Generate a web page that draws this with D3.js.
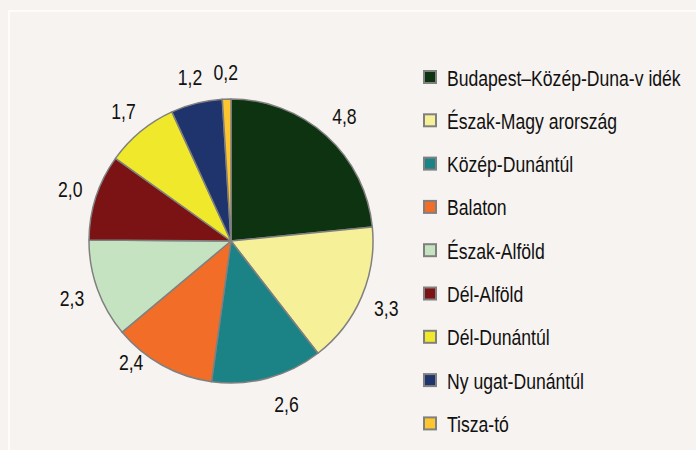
<!DOCTYPE html>
<html>
<head>
<meta charset="utf-8">
<script src="https://cdn.jsdelivr.net/npm/d3@7"></script>
<style>
  html, body { margin: 0; padding: 0; background: #f7f3f0; }
  svg { display: block; }
  text { font-family: "Liberation Sans", Arial, sans-serif; fill: #111; }
</style>
</head>
<body>
<div id="container"></div>
<script>
// regions (legend order = slice order, clockwise from 12 o'clock)
var regions = ["Budapest–Közép-Duna-v idék", "Észak-Magy arország", "Közép-Dunántúl", "Balaton",
  "Észak-Alföld", "Dél-Alföld", "Dél-Dunántúl", "Ny ugat-Dunántúl", "Tisza-tó"];
var shares = [4.8, 3.3, 2.6, 2.4, 2.3, 2.0, 1.7, 1.2, 0.2];
var colors = ["#0d3311", "#f6f199", "#1b8385", "#f26e28", "#c6e3c1", "#7b1315", "#f0e82a", "#1f346c", "#fdc62e"];

var width = 696, height = 450;
var cx = 231, cy = 241, radius = 142, labelRadius = 169;
var squeeze = 0.8; // narrow type like the original

// hand nudges for a couple of labels, as in the source chart
var nudge = { 2: [12, 0], 3: [-18, -27] };

var svg = d3.select("#container").append("svg").attr("width", width).attr("height", height);

svg.append("rect").attr("width", width).attr("height", height).attr("fill", "#f7f3f0");

// white frame on the top and left
svg.append("path")
  .attr("d", "M9," + height + "V11H" + width)
  .attr("fill", "none").attr("stroke", "#fff").attr("stroke-width", 1.6);

var pie = d3.pie().sort(null).value(function (d) { return d; });
var arc = d3.arc().innerRadius(0).outerRadius(radius);
var labelArc = d3.arc().innerRadius(labelRadius).outerRadius(labelRadius);

var g = svg.append("g").attr("transform", "translate(" + cx + "," + cy + ")");
var arcs = pie(shares);

g.selectAll(".slice").data(arcs).enter().append("path")
  .attr("class", "slice")
  .attr("d", arc)
  .attr("fill", function (d, i) { return colors[i]; })
  .attr("stroke", "#808080")
  .attr("stroke-width", 1.5)
  .attr("stroke-linejoin", "round");

g.selectAll(".lbl").data(arcs).enter().append("text")
  .attr("class", "lbl")
  .attr("transform", function (d, i) {
    var c = labelArc.centroid(d), n = nudge[i] || [0, 0];
    return "translate(" + (c[0] + n[0]) + "," + (c[1] + n[1]) + ") scale(" + squeeze + ",1)";
  })
  .attr("text-anchor", "middle")
  .attr("dy", "0.36em")
  .style("font-size", "22px")
  .text(function (d) { return d3.format(".1f")(d.data).replace(".", ","); });

// legend
var legend = svg.append("g").attr("transform", "translate(423,77)");
var row = legend.selectAll(".row").data(regions).enter().append("g")
  .attr("class", "row")
  .attr("transform", function (d, i) { return "translate(0," + (i * 43.3) + ")"; });

row.append("rect")
  .attr("x", 1).attr("y", -6).attr("width", 12).attr("height", 12)
  .attr("fill", function (d, i) { return colors[i]; })
  .attr("stroke", "#808080").attr("stroke-width", 2);

row.append("text")
  .attr("transform", "translate(24,8.5) scale(" + squeeze + ",1)")
  .style("font-size", "22px")
  .text(function (d) { return d; });
</script>
</body>
</html>
